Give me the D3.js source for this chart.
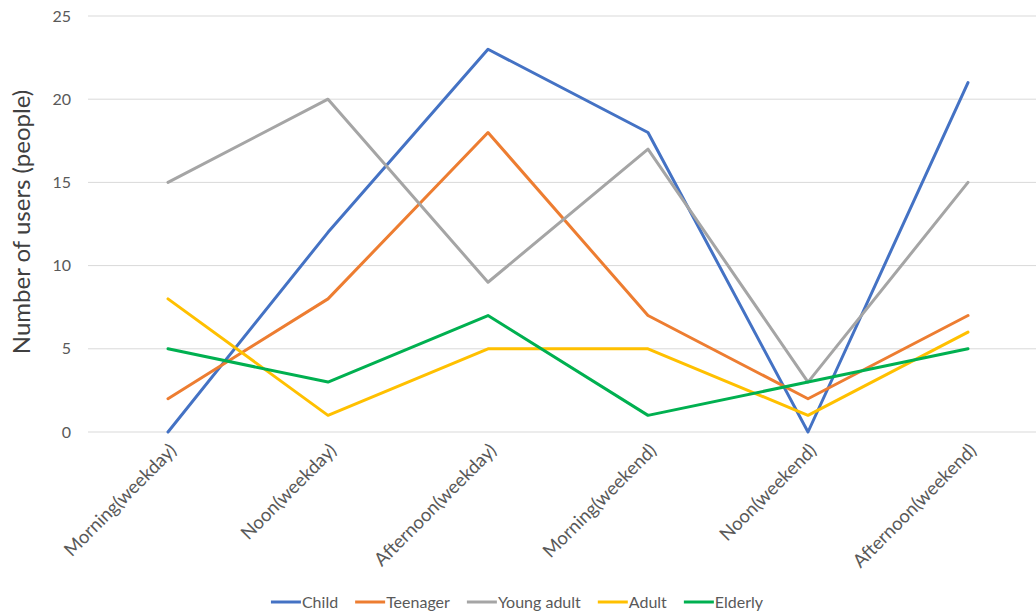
<!DOCTYPE html>
<html><head><meta charset="utf-8">
<script src="https://cdn.jsdelivr.net/npm/d3@7"></script>
<style>body{margin:0;background:#fff;}svg{display:block;font-family:Lato,"Open Sans",sans-serif;}</style>
</head><body><svg id="c" width="1036" height="615"></svg>
<script>
const categories = ["Morning(weekday)","Noon(weekday)","Afternoon(weekday)","Morning(weekend)","Noon(weekend)","Afternoon(weekend)"];
const seriesNames = ["Child","Teenager","Young adult","Adult","Elderly"];
const child = [0,12,23,18,0,21];
const teenager = [2,8,18,7,2,7];
const youngAdult = [15,20,9,17,3,15];
const adult = [8,1,5,5,1,6];
const elderly = [5,3,7,1,3,5];
const yTicks = [0,5,10,15,20,25];
const colors = ["#4472C4","#ED7D31","#A5A5A5","#FFC000","#00B050"];
const seriesValues = [child,teenager,youngAdult,adult,elderly];

const svg = d3.select("#c");
const pLeft = 88, pRight = 1036, pTop = 16, pBottom = 432;
const x = d3.scalePoint().domain(categories).range([168, 968]);
const y = d3.scaleLinear().domain([0,25]).range([pBottom, pTop]);

const g = svg.append("g");
g.selectAll("line.grid").data(yTicks).join("line")
  .attr("x1", pLeft).attr("x2", pRight)
  .attr("y1", d=>y(d)).attr("y2", d=>y(d))
  .attr("stroke", "#d9d9d9").attr("stroke-width", 1);

g.selectAll("text.yt").data(yTicks).join("text")
  .attr("x", 71).attr("y", d=>y(d)).attr("dy","0.35em")
  .attr("text-anchor","end").attr("fill","#595959").attr("font-size","16px")
  .text(d=>d);

svg.append("text").attr("transform","translate(30,222) rotate(-90)")
  .attr("text-anchor","middle").attr("fill","#404040").attr("font-size","24px")
  .text("Number of users (people)");

g.selectAll("text.xt").data(categories).join("text")
  .attr("transform", d=>`translate(${x(d)+5},${447}) rotate(-45)`)
  .attr("text-anchor","end").attr("dy","0.35em")
  .attr("fill","#595959").attr("font-size","18.5px")
  .text(d=>d);

const line = d3.line().x((d,i)=>x(categories[i])).y(d=>y(d));
seriesValues.forEach((vals, k)=>{
  svg.append("path").datum(vals).attr("d", line)
    .attr("fill","none").attr("stroke", colors[k]).attr("stroke-width", 3)
    .attr("stroke-linejoin","round").attr("stroke-linecap","round");
});

// legend
const legendItems = seriesNames.map((n,i)=>({n, c: colors[i]}));
const lg = svg.append("g").attr("transform","translate(0,602)");
const widths = [];
const tmp = lg.append("text").attr("font-size","16px");
legendItems.forEach(d=>{ tmp.text(d.n); widths.push(tmp.node().getComputedTextLength()); });
tmp.remove();
const sw = 30, gap = 1, itemGap = 17;
const total = d3.sum(widths) + legendItems.length*(sw+gap) + (legendItems.length-1)*itemGap;
let cx = 517 - total/2;
legendItems.forEach((d,i)=>{
  lg.append("line").attr("x1",cx).attr("x2",cx+sw).attr("y1",0).attr("y2",0)
    .attr("stroke",d.c).attr("stroke-width",3);
  lg.append("text").attr("x",cx+sw+gap).attr("y",0).attr("dy","0.35em")
    .attr("fill","#595959").attr("font-size","16px").text(d.n);
  cx += sw + gap + widths[i] + itemGap;
});
</script></body></html>
